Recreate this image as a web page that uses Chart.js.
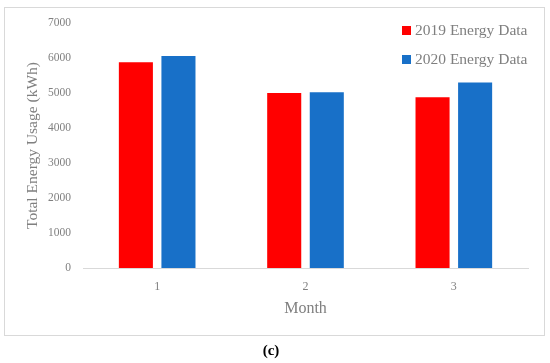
<!DOCTYPE html>
<html>
<head>
<meta charset="utf-8">
<script src="https://cdn.jsdelivr.net/npm/chart.js@4"></script>
<style>
  body { margin: 0; background: #fff; }
  #wrap { position: relative; width: 550px; height: 363px; }
  #frame { position: absolute; left: 4px; top: 7px; width: 539px; height: 327px; border: 1px solid #d9d9d9; pointer-events: none; }
  .leg { position: absolute; left: 402px; font: 15.5px "Liberation Serif", serif; color: #7f7f7f; white-space: nowrap; }
  .leg span { display: inline-block; width: 9px; height: 9px; margin-right: 4px; vertical-align: 0px; }
  #cap { position: absolute; left: 0; width: 542px; top: 342px; text-align: center; font: bold 15px "Liberation Serif", serif; color: #000; }
</style>
</head>
<body>
<div id="wrap">
  <canvas id="energyChart" width="550" height="363"></canvas>
  <div id="frame"></div>
  <div class="leg" style="top:21px"><span style="background:#ff0000"></span>2019 Energy Data</div>
  <div class="leg" style="top:50px"><span style="background:#1870c8"></span>2020 Energy Data</div>
  <div id="cap">(c)</div>
</div>
<script>
// data
const months = ['1', '2', '3'];
const energy2019 = [5880, 5000, 4880];
const energy2020 = [6060, 5020, 5300];
const yTicks = [0, 1000, 2000, 3000, 4000, 5000, 6000, 7000];

const grey = '#808080';
const serif = '"Liberation Serif", serif';

new Chart(document.getElementById('energyChart'), {
  type: 'bar',
  data: {
    labels: months,
    datasets: [
      { label: '2019 Energy Data', data: energy2019, backgroundColor: '#ff0000' },
      { label: '2020 Energy Data', data: energy2020, backgroundColor: '#1870c8' }
    ]
  },
  options: {
    responsive: false,
    animation: false,
    layout: { padding: { top: 23, right: 22, bottom: 0, left: 0 } },
    plugins: { legend: { display: false }, tooltip: { enabled: false } },
    datasets: { bar: { categoryPercentage: 0.574, barPercentage: 0.8 } },
    scales: {
      x: {
        grid: { display: false, drawTicks: false },
        border: { display: true, color: '#d9d9d9', width: 1 },
        ticks: { color: grey, font: { family: serif, size: 12 }, padding: 12 },
        title: { display: true, text: 'Month', color: grey, font: { family: serif, size: 16 }, padding: { bottom: 45 } },
        afterFit: (s) => { s.height = 95; }
      },
      y: {
        min: 0,
        max: 7000,
        afterBuildTicks: (s) => { s.ticks = yTicks.map(v => ({ value: v })); },
        grid: { display: false, drawTicks: false },
        border: { display: false },
        ticks: { color: grey, font: { family: serif, size: 11.5 }, padding: 12, callback: (v) => String(v) },
        title: { display: true, text: 'Total Energy Usage (kWh)', color: grey, font: { family: serif, size: 15.5 }, padding: { top: 24 } },
        afterFit: (s) => { s.width = 83; }
      }
    }
  }
});
</script>
</body>
</html>
